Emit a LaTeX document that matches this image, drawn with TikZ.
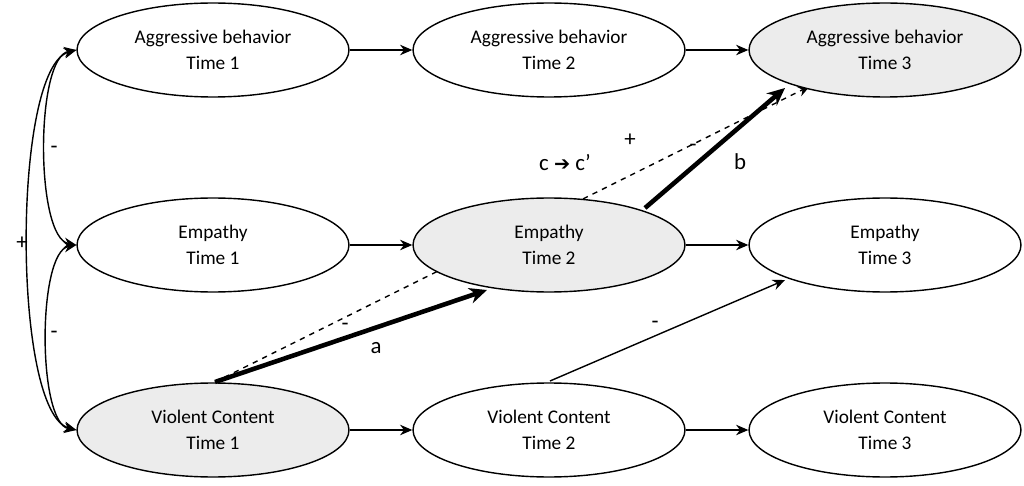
\documentclass[tikz,border=0pt]{standalone}
\usepackage{fontspec}
\setmainfont{Carlito}
\newfontfamily\dvs{DejaVu Sans}
\usetikzlibrary{shapes.geometric,arrows.meta,backgrounds}
\begin{document}
\begin{tikzpicture}[x=0.02cm,y=-0.02cm,
  el/.style={ellipse,draw,line width=0.8pt,fill=white,minimum width=5.44cm,minimum height=1.88cm,inner sep=0pt,align=center,font=\fontsize{11}{14.5}\selectfont},
  sh/.style={el,fill=gray!15},
  ar/.style={-{Stealth[length=7pt,width=6pt]},line width=0.8pt},
  dar/.style={{Stealth[length=7pt,width=6pt]}-{Stealth[length=7pt,width=6pt]},line width=0.8pt},
  thick arr/.style={-{Stealth[length=10pt,width=9pt]},line width=2.6pt},
  lab/.style={font=\fontsize{13}{15}\selectfont}]
\useasboundingbox (0,0) rectangle (1024,486);
\node[el] (A1) at (213,50) {Aggressive behavior\\Time 1};
\node[el] (A2) at (549,50) {Aggressive behavior\\Time 2};
\node[sh] (A3) at (885,50) {Aggressive behavior\\Time 3};
\node[el] (E1) at (213,245) {Empathy\\Time 1};
\node[sh] (E2) at (549,245) {Empathy\\Time 2};
\node[el] (E3) at (885,245) {Empathy\\Time 3};
\node[sh] (V1) at (213,430) {Violent Content\\Time 1};
\node[el] (V2) at (549,430) {Violent Content\\Time 2};
\node[el] (V3) at (885,430) {Violent Content\\Time 3};
\foreach \a/\b in {A1/A2,A2/A3,E1/E2,E2/E3,V1/V2,V2/V3}
  \draw[ar] (\a) -- (\b);
\draw[dar] (A1.west) to[out=190,in=170,looseness=0.55] (E1.west);
\draw[dar] (E1.west) to[out=190,in=170,looseness=0.55] (V1.west);
\draw[dar] (A1.west) to[out=195,in=165,looseness=0.45] (V1.west);
\node[lab] at (54,150) {-};
\node[lab] at (54,335) {-};
\node[lab] at (22,243) {+};
\coordinate (v1t) at (215,382);
\begin{scope}[on background layer]
\draw[ar,dashed,line width=0.8pt] (v1t) -- (810,86);
\end{scope}
\draw[thick arr] (v1t) -- (487,290);
\draw[thick arr] (645,208) -- (785,88);
\coordinate (v2t) at (550,381);
\draw[ar] (v2t) -- (785,280);
\node[lab] at (345,327) {-};
\node[lab] at (376,348) {a};
\node[lab] at (565,163) {c {\dvs\bfseries\fontsize{11}{13}\selectfont ➔} c'};
\node[lab] at (630,140) {+};
\node[lab] at (693,148) {-};
\node[lab] at (740,162) {b};
\node[lab] at (655,325) {-};
\end{tikzpicture}
\end{document}
